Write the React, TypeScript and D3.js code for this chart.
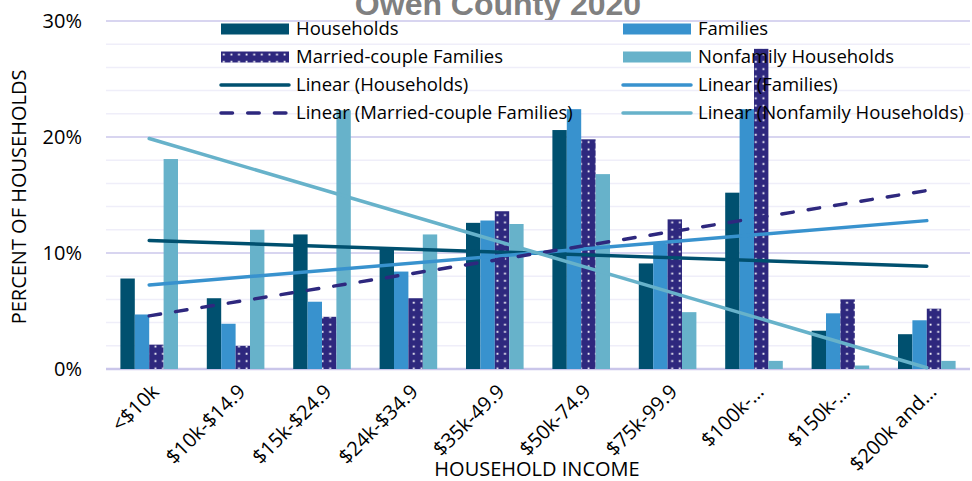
import React from 'react';
import * as d3 from 'd3';

const categories = ['<$10k', '$10k-$14.9', '$15k-$24.9', '$24k-$34.9', '$35k-49.9', '$50k-74.9', '$75k-99.9', '$100k-…', '$150k-…', '$200k and…'];
const households = [7.8, 6.1, 11.6, 10.4, 12.6, 20.6, 9.1, 15.2, 3.3, 3.0];
const families = [4.7, 3.9, 5.8, 8.4, 12.8, 22.4, 10.8, 22.4, 4.8, 4.2];
const married = [2.1, 2.0, 4.5, 6.1, 13.6, 19.8, 12.9, 27.6, 6.0, 5.2];
const nonfamily = [18.1, 12.0, 22.3, 11.6, 12.5, 16.8, 4.9, 0.7, 0.3, 0.7];
const seriesNames = ['Households', 'Families', 'Married-couple Families', 'Nonfamily Households'];
const yTicks = [0, 10, 20, 30];
const minorTicks = d3.range(0, 31, 2);

const W = 972, H = 481;
const colors = ['#00506F', '#3892CE', '#2E287E', '#67B2CA'];
const FONT = '"Open Sans", sans-serif';

function fit(vals: number[]) {
  const n = vals.length;
  const xm = (n - 1) / 2;
  const ym = d3.mean(vals) as number;
  let sxy = 0, sxx = 0;
  vals.forEach((v, i) => { sxy += (i - xm) * (v - ym); sxx += (i - xm) * (i - xm); });
  const b = sxy / sxx;
  return (i: number) => ym + b * (i - xm);
}

export default function App() {
  const data = [households, families, married, nonfamily];
  const x = d3.scaleBand<string>().domain(categories).range([106, 970]).padding(0);
  const inner = d3.scaleBand<number>().domain([0, 1, 2, 3]).range([0, x.bandwidth()]).paddingInner(0).paddingOuter(1);
  const y = d3.scaleLinear().domain([0, 30]).range([369, 21]);
  const cx = (i: number) => (x(categories[i]) as number) + x.bandwidth() / 2;
  const fill = (s: number) => (s === 2 ? 'url(#dots)' : colors[s]);

  const legendItems = [
    { col: 0, row: 0, type: 'bar', s: 0, label: seriesNames[0] },
    { col: 1, row: 0, type: 'bar', s: 1, label: seriesNames[1] },
    { col: 0, row: 1, type: 'bar', s: 2, label: seriesNames[2] },
    { col: 1, row: 1, type: 'bar', s: 3, label: seriesNames[3] },
    { col: 0, row: 2, type: 'line', s: 0, label: `Linear (${seriesNames[0]})` },
    { col: 1, row: 2, type: 'line', s: 1, label: `Linear (${seriesNames[1]})` },
    { col: 0, row: 3, type: 'line', s: 2, label: `Linear (${seriesNames[2]})` },
    { col: 1, row: 3, type: 'line', s: 3, label: `Linear (${seriesNames[3]})` },
  ];
  const colX = [221, 623];
  const rowY = [29, 57, 85, 113];

  return (
    <svg width={W} height={H} style={{ position: 'absolute', left: 0, top: 0, background: '#fff' }} fontFamily={FONT}>
      <defs>
        <pattern id="dots" patternUnits="userSpaceOnUse" width={7.6} height={7.3}>
          <rect width={7.6} height={7.3} fill={colors[2]} />
          <rect x={2.5} y={2.5} width={1.8} height={1.8} fill="#fff" />
        </pattern>
      </defs>
      <rect width={W} height={H} fill="#fff" />
      <text x={498} y={14.5} textAnchor="middle" fontSize={32} fontWeight="bold" fill="#808080" fontFamily='"Liberation Sans", Arial, sans-serif'>Owen County 2020</text>
      {minorTicks.filter((t) => t % 10 !== 0).map((t) => (
        <line key={'m' + t} x1={106} x2={970} y1={y(t)} y2={y(t)} stroke="#EFEEF9" strokeWidth={1.5} />
      ))}
      {yTicks.map((t) => (
        <line key={'g' + t} x1={106} x2={970} y1={y(t)} y2={y(t)} stroke={t === 0 ? '#CAC6EA' : '#D8D5F0'} strokeWidth={t === 0 ? 2.5 : 1.8} />
      ))}
      {yTicks.map((t) => (
        <text key={'t' + t} x={82} y={y(t)} dy="0.35em" textAnchor="end" fontSize={20} fill="#000">{t + '%'}</text>
      ))}
      {data.map((vals, s) => (
        <g key={'s' + s}>
          {vals.map((v, i) => (
            <rect key={i} x={(x(categories[i]) as number) + (inner(s) as number)} width={inner.bandwidth()} y={y(v)} height={y(0) - y(v)} fill={fill(s)} />
          ))}
        </g>
      ))}
      {data.map((vals, s) => {
        const f = fit(vals);
        const pts = [f(0), f(vals.length - 1)];
        const l = d3.line<number>().x((_, k) => cx(k === 0 ? 0 : vals.length - 1)).y((d) => y(d));
        return (
          <path key={'tr' + s} d={l(pts) as string} fill="none" stroke={colors[s]} strokeWidth={3.5}
            strokeLinecap="round" strokeDasharray={s === 2 ? '11.5,15.2' : undefined} />
        );
      })}
      {categories.map((c, i) => (
        <text key={'xl' + i} transform={`translate(${cx(i) + 6},${388}) rotate(-45)`} dy="0.35em" textAnchor="end" fontSize={20} fill="#000">{c}</text>
      ))}
      <text x={537} y={476} textAnchor="middle" fontSize={20} fill="#000">HOUSEHOLD INCOME</text>
      <text transform={`translate(26,197) rotate(-90)`} textAnchor="middle" fontSize={20} fill="#000">PERCENT OF HOUSEHOLDS</text>
      {legendItems.map((it, k) => {
        const x0 = colX[it.col];
        const yc = rowY[it.row];
        return (
          <g key={'lg' + k}>
            {it.type === 'bar' ? (
              <rect x={x0} y={yc - 5.5} width={68} height={11} fill={fill(it.s)} />
            ) : (
              <line x1={x0} x2={x0 + 68} y1={yc} y2={yc} stroke={colors[it.s]} strokeWidth={3.5} strokeLinecap="round"
                strokeDasharray={it.s === 2 ? '11.5,15.2' : undefined} />
            )}
            <text x={x0 + 75} y={yc} dy="0.35em" fontSize={18.5} fill="#000">{it.label}</text>
          </g>
        );
      })}
    </svg>
  );
}
